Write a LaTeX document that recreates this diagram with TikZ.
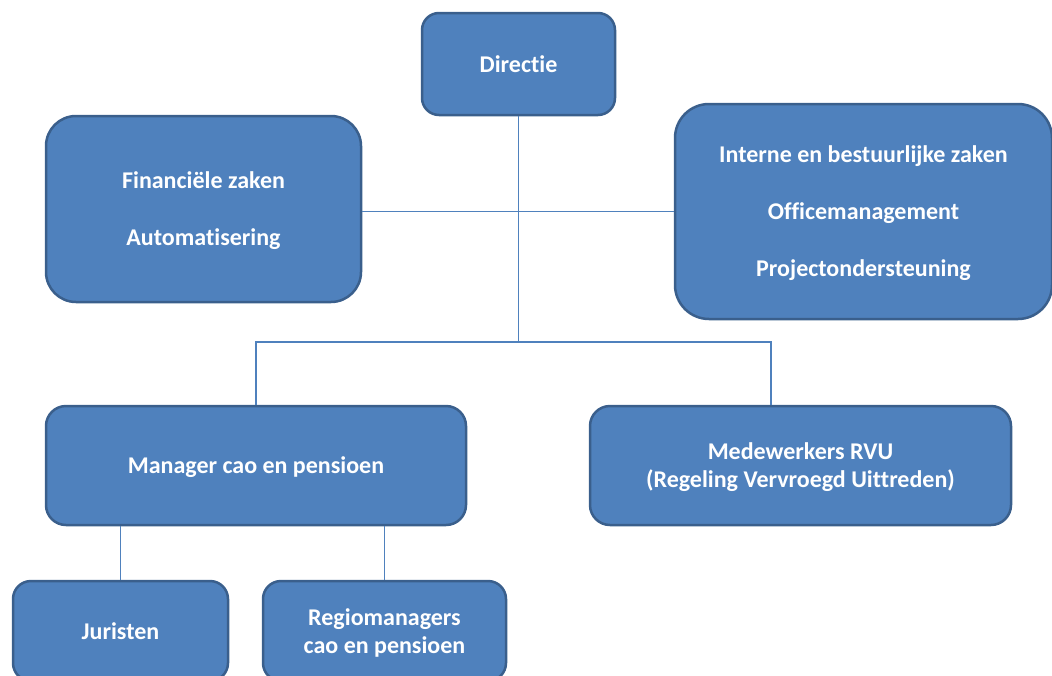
\documentclass[tikz,border=0pt]{standalone}
\usepackage{fontspec}
\setmainfont[Ligatures=NoCommon]{Carlito}
\definecolor{boxfill}{HTML}{4F81BD}
\definecolor{boxline}{HTML}{3A5F8C}
\tikzset{
  box/.style={draw=boxline,line width=2.5pt,fill=boxfill,text=white,
    font=\fontsize{24}{28}\selectfont\bfseries,align=center,inner sep=0pt,
    text depth=0pt},
  link/.style={draw=boxfill,line width=1.5pt}
}
\begin{document}
\begin{tikzpicture}[x=1pt,y=-1pt]
\useasboundingbox (0,0) rectangle (1052,675);
\clip (0,0) rectangle (1052,675);
%boxes
\node[box,minimum width=193pt,minimum height=102pt,rounded corners=17pt](dir) at (518.5,64){Directie};
\node[box,minimum width=315pt,minimum height=186pt,rounded corners=30pt](fin) at (203.5,209){Financiële zaken\\[29pt]Automatisering};
\node[box,minimum width=377pt,minimum height=215pt,rounded corners=34pt](int) at (863.5,211.5){Interne en bestuurlijke zaken\\[29pt]Officemanagement\\[29pt]Projectondersteuning};
\node[box,minimum width=420pt,minimum height=119pt,rounded corners=20pt](man) at (256,465.5){Manager cao en pensioen};
\node[box,minimum width=421pt,minimum height=119pt,rounded corners=20pt](med) at (800.5,465.5){Medewerkers RVU\\(Regeling Vervroegd Uittreden)};
\node[box,minimum width=215pt,minimum height=100pt,rounded corners=18pt](jur) at (120.5,631){Juristen};
\node[box,minimum width=243pt,minimum height=100pt,rounded corners=18pt](reg) at (384.5,631){Regiomanagers\\cao en pensioen};
%lines
\coordinate (hub) at (518.5,342);
\draw[link](dir.south)--(hub);
\draw[link](int.west-|fin.east)--(int.west);
\draw[link](man.north)|-(hub);
\draw[link](hub)-|([xshift=-29.5pt]med.north);
\draw[link](man.south-|jur.north)--(jur.north);
\draw[link](man.south-|reg.north)--(reg.north);
\end{tikzpicture}
\end{document}
